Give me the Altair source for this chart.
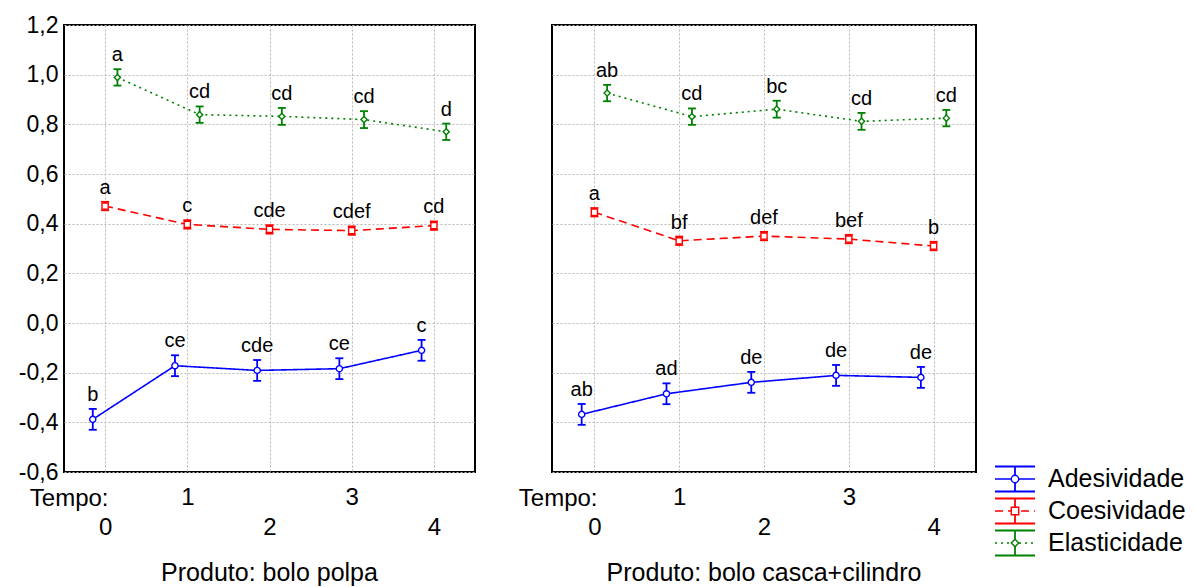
import altair as alt
import pandas as pd

FONT = "Liberation Sans"

tempo = [0, 1, 2, 3, 4]
series = ["Adesividade", "Coesividade", "Elasticidade"]
produtos = ["bolo polpa", "bolo casca+cilindro"]

# bolo polpa
ades_polpa = [-0.388, -0.172, -0.191, -0.184, -0.110]
coes_polpa = [0.471, 0.397, 0.377, 0.372, 0.392]
elas_polpa = [0.989, 0.839, 0.832, 0.819, 0.770]
# bolo casca+cilindro
ades_casca = [-0.368, -0.285, -0.239, -0.211, -0.219]
coes_casca = [0.446, 0.331, 0.350, 0.338, 0.310]
elas_casca = [0.926, 0.831, 0.861, 0.812, 0.825]

# error half-widths
ades_err = [0.042, 0.042, 0.042, 0.042, 0.042]
coes_err = [0.017, 0.017, 0.017, 0.017, 0.017]
elas_err = [0.033, 0.033, 0.034, 0.034, 0.033]

# significance letters
lab_ades_polpa = ["b", "ce", "cde", "ce", "c"]
lab_coes_polpa = ["a", "c", "cde", "cdef", "cd"]
lab_elas_polpa = ["a", "cd", "cd", "cd", "d"]
lab_ades_casca = ["ab", "ad", "de", "de", "de"]
lab_coes_casca = ["a", "bf", "def", "bef", "b"]
lab_elas_casca = ["ab", "cd", "bc", "cd", "cd"]

dodge = {"Adesividade": -0.15, "Coesividade": 0.0, "Elasticidade": 0.15}
colors = ["#0000ff", "#ff0000", "#008000"]
shapes = ["circle", "square", "diamond"]
dashes = [[1, 0], [8, 5], [2, 4]]

values = {
    ("bolo polpa", "Adesividade"): (ades_polpa, ades_err, lab_ades_polpa),
    ("bolo polpa", "Coesividade"): (coes_polpa, coes_err, lab_coes_polpa),
    ("bolo polpa", "Elasticidade"): (elas_polpa, elas_err, lab_elas_polpa),
    ("bolo casca+cilindro", "Adesividade"): (ades_casca, ades_err, lab_ades_casca),
    ("bolo casca+cilindro", "Coesividade"): (coes_casca, coes_err, lab_coes_casca),
    ("bolo casca+cilindro", "Elasticidade"): (elas_casca, elas_err, lab_elas_casca),
}

rows = []
for (prod, s), (vals, errs, labs) in values.items():
    for t, v, e, l in zip(tempo, vals, errs, labs):
        rows.append({"produto": prod, "serie": s, "tempo": t,
                     "xpos": t + dodge[s], "y": v, "lo": v - e, "hi": v + e,
                     "label": l})
df = pd.DataFrame(rows)

color_enc = alt.Color("serie:N", scale=alt.Scale(domain=series, range=colors), legend=None)
dash_enc = alt.StrokeDash("serie:N", scale=alt.Scale(domain=series, range=dashes), legend=None)
shape_enc = alt.Shape("serie:N", scale=alt.Scale(domain=series, range=shapes), legend=None)

yticks = [-0.6, -0.4, -0.2, 0.0, 0.2, 0.4, 0.6, 0.8, 1.0, 1.2]
GRID = "#b8b8b8"


def panel(prod, width, title_x, show_y):
    d = df[df.produto == prod]
    xs = alt.Scale(domain=[-0.5, 4.5], nice=False, zero=False)
    ys = alt.Scale(domain=[-0.6, 1.2], nice=False, zero=False)
    xaxis = alt.Axis(
        values=tempo, format="d", title="Tempo:", titleX=title_x, titleY=26,
        titleAlign="right", titleBaseline="middle", titleFontSize=24,
        titleFontWeight="normal", titleFont=FONT, titleColor="black",
        labelFontSize=24, labelFont=FONT, labelColor="black",
        labelPadding={"condition": {"test": "datum.value % 2 == 1", "value": 13}, "value": 43},
        labelOverlap=False, labelFlush=False,
        grid=True, gridColor=GRID, gridDash=[2, 2], gridWidth=1,
        domain=False, ticks=False,
    )
    if show_y:
        yaxis = alt.Axis(
            values=yticks, title=None,
            labelExpr="replace(replace(format(datum.value, '.1f'), '.', ','), '\u2212', '-')",
            labelFontSize=23, labelFont=FONT, labelColor="black", labelPadding=6,
            labelOverlap=False, labelFlush=False,
            grid=True, gridColor=GRID, gridDash=[2, 2], gridWidth=1,
            domain=False, ticks=False,
        )
    else:
        yaxis = alt.Axis(
            values=yticks, title=None, labels=False, grid=True, gridColor=GRID,
            gridDash=[2, 2], gridWidth=1, domain=False, ticks=False,
        )
    base = alt.Chart(d)
    X = alt.X("xpos:Q", scale=xs, axis=xaxis)
    line = base.mark_line(strokeWidth=1.6).encode(
        x=X, y=alt.Y("y:Q", scale=ys, axis=yaxis), color=color_enc,
        strokeDash=dash_enc, detail="serie:N")
    err = base.mark_rule(strokeWidth=1.8).encode(
        x="xpos:Q", y="lo:Q", y2="hi:Q", color=color_enc)
    cap_hi = base.mark_rule(strokeWidth=1.8, xOffset=-4, x2Offset=4).encode(
        x="xpos:Q", x2="xpos:Q", y="hi:Q", color=color_enc)
    cap_lo = base.mark_rule(strokeWidth=1.8, xOffset=-4, x2Offset=4).encode(
        x="xpos:Q", x2="xpos:Q", y="lo:Q", color=color_enc)
    pts = base.mark_point(filled=False, fill="white", fillOpacity=1, opacity=1,
                          size=38, strokeWidth=1.4).encode(
        x="xpos:Q", y="y:Q", color=color_enc, shape=shape_enc)
    txt = base.mark_text(baseline="bottom", dy=-4, fontSize=20, font=FONT,
                         color="black").encode(
        x="xpos:Q", y="hi:Q", text="label:N")
    return alt.layer(line, err, cap_hi, cap_lo, pts, txt).properties(
        width=width, height=447,
        title=alt.TitleParams(text=f"Produto: {prod}", orient="bottom",
                              fontSize=25, fontWeight="normal", font=FONT,
                              color="black", anchor="middle", offset=22),
    )


left = panel("bolo polpa", 411, 44, True)
right = panel("bolo casca+cilindro", 424, 45, False)

leg_df = pd.DataFrame({"serie": series, "row": [0, 1, 2]})
ly = alt.Y("row:Q", scale=alt.Scale(domain=[0, 2], range=[454, 518]), axis=None)
lb = alt.Chart(leg_df)
leg_top = lb.mark_rule(strokeWidth=2, yOffset=-12.5).encode(
    x=alt.value(-58), x2=alt.value(-18), y=ly, color=color_enc)
leg_bot = lb.mark_rule(strokeWidth=2, yOffset=12.5).encode(
    x=alt.value(-58), x2=alt.value(-18), y=ly, color=color_enc)
leg_mid = lb.mark_rule(strokeWidth=1.6).encode(
    x=alt.value(-58), x2=alt.value(-18), y=ly, color=color_enc, strokeDash=dash_enc)
leg_vert = lb.mark_rule(strokeWidth=1.8, yOffset=-12.5, y2Offset=12.5).encode(
    x=alt.value(-38), y=ly, y2="row:Q", color=color_enc)
leg_pt = lb.mark_point(filled=False, fill="white", fillOpacity=1, opacity=1,
                       size=55, strokeWidth=1.4).encode(
    x=alt.value(-38), y=ly, color=color_enc, shape=shape_enc)
leg_txt = lb.mark_text(align="left", baseline="middle", fontSize=25, font=FONT,
                       color="black").encode(
    x=alt.value(-5), y=ly, text="serie:N")
legend = alt.layer(leg_top, leg_bot, leg_mid, leg_vert, leg_pt, leg_txt).properties(
    width=120, height=447, view=alt.ViewBackground(stroke="transparent"))

chart = alt.hconcat(left, right, legend, spacing=77, bounds="flush").configure(
    font=FONT, background="white"
).configure_view(
    stroke="black", strokeWidth=2
).properties(
    padding={"left": 9, "top": 5, "right": 0, "bottom": 0}
)

chart.save("out.html", embed_options={"renderer": "svg", "actions": False})
